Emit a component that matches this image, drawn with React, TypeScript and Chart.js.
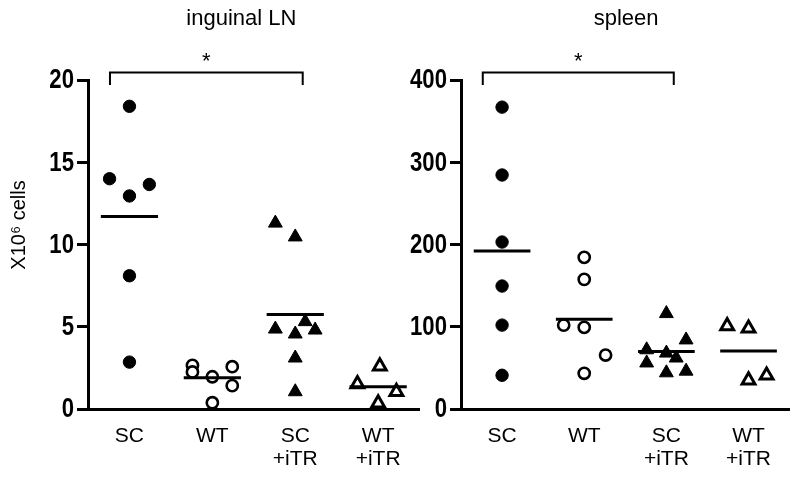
import React, { useEffect, useRef } from "react";
import { Chart, registerables } from "chart.js";

Chart.register(...registerables);

// ---- data ----
const categories: string[][] = [["SC"], ["WT"], ["SC", "+iTR"], ["WT", "+iTR"]];

// inguinal LN (X10^6 cells)
const lnSC = [18.4, 14.0, 12.95, 13.65, 8.1, 2.85];
const lnSCJitter = [0, -0.24, 0, 0.24, 0, 0];
const lnWT = [2.65, 2.25, 1.96, 0.38, 2.57, 1.42];
const lnWTJitter = [-0.24, -0.24, 0, 0, 0.24, 0.24];
const lnSCiTR = [11.3, 10.46, 4.86, 4.56, 5.31, 4.8, 3.1, 1.05];
const lnSCiTRJitter = [-0.24, 0, -0.24, 0, 0.12, 0.24, 0, 0];
const lnWTiTR = [1.52, 2.6, 0.35, 1.05];
const lnWTiTRJitter = [-0.25, 0.02, 0, 0.22];
const lnMeans = [11.7, 1.9, 5.75, 1.36];
const lnTicks = { max: 20, step: 5 };
const lnBracket = { x: [0.765, 3.09], y: [19.7, 20.45], star: 21.1 };

// spleen (X10^6 cells)
const spSC = [367, 284.5, 203, 149.5, 102, 41];
const spSCJitter = [0, 0, 0, 0, 0, 0];
const spWT = [184.4, 157.6, 102, 99.3, 65.6, 43.4];
const spWTJitter = [0, 0, -0.25, 0, 0.26, 0];
const spSCiTR = [116, 84, 72, 68, 62, 56, 44, 46];
const spSCiTRJitter = [0, 0.24, -0.24, 0, 0.12, -0.24, 0, 0.24];
const spWTiTR = [101, 98, 35, 41];
const spWTiTRJitter = [-0.26, 0, 0, 0.22];
const spMeans = [192, 109, 70, 70.5];
const spTicks = { max: 400, step: 100 };
const spBracket = { x: [0.765, 3.09], y: [394, 409], star: 422 };

const SANS = '"Liberation Sans", Arial, Helvetica, sans-serif';

type Panel = {
  title: string;
  titleX: number;
  groups: { values: number[]; jitter: number[] }[];
  means: number[];
  ticks: { max: number; step: number };
  bracket: { x: number[]; y: number[]; star: number };
  yTitle?: string;
  yWidth: number;
  padRight: number;
};

const markerStyles = [
  { pointStyle: "circle", pointRadius: 6.2, backgroundColor: "#000", borderWidth: 1 },
  { pointStyle: "circle", pointRadius: 5.6, backgroundColor: "#fff", borderWidth: 2.6 },
  { pointStyle: "triangle", pointRadius: 8, backgroundColor: "#000", borderWidth: 1 },
  { pointStyle: "triangle", pointRadius: 7.4, backgroundColor: "#fff", borderWidth: 3 },
];

const TICK_LEN = 11;
const TICK_PAD = 3;

function makeConfig(p: Panel): any {
  const datasets: any[] = [];
  p.groups.forEach((g, gi) => {
    const st = markerStyles[gi];
    datasets.push({
      type: "scatter",
      data: g.values.map((v, i) => ({ x: gi + 1 + g.jitter[i], y: v })),
      pointStyle: st.pointStyle,
      pointRadius: st.pointRadius,
      pointHoverRadius: st.pointRadius,
      backgroundColor: st.backgroundColor,
      borderColor: "#000",
      borderWidth: st.borderWidth,
      order: 2,
    });
  });
  p.means.forEach((m, gi) => {
    datasets.push({
      type: "line",
      data: [
        { x: gi + 1 - 0.345, y: m },
        { x: gi + 1 + 0.345, y: m },
      ],
      borderColor: "#000",
      borderWidth: 3,
      pointRadius: 0,
      fill: false,
      order: 1,
    });
  });
  const b = p.bracket;
  datasets.push({
    type: "line",
    data: [
      { x: b.x[0], y: b.y[0] },
      { x: b.x[0], y: b.y[1] },
      { x: b.x[1], y: b.y[1] },
      { x: b.x[1], y: b.y[0] },
    ],
    borderColor: "#000",
    borderWidth: 2,
    pointRadius: 0,
    fill: false,
    clip: false,
    order: 1,
  });

  const annot = {
    id: "annot",
    afterDraw(chart: any) {
      const { ctx, chartArea } = chart;
      const x = chart.scales.x;
      const y = chart.scales.y;
      ctx.save();
      ctx.fillStyle = "#000";
      ctx.textAlign = "center";
      ctx.textBaseline = "middle";
      ctx.font = `22px ${SANS}`;
      ctx.fillText(p.title, x.getPixelForValue(p.titleX), 19);
      ctx.font = `22px ${SANS}`;
      ctx.fillText("*", x.getPixelForValue((b.x[0] + b.x[1]) / 2), y.getPixelForValue(b.star));
      // condensed bold y tick labels, taken from the scale's own ticks
      ctx.font = `bold 27px ${SANS}`;
      ctx.textAlign = "right";
      const xr = chartArea.left - TICK_LEN - TICK_PAD;
      y.ticks.forEach((t: any) => {
        ctx.save();
        ctx.translate(xr, y.getPixelForValue(t.value));
        ctx.scale(0.82, 1);
        ctx.fillText(String(t.label ?? t.value), 0, 1);
        ctx.restore();
      });
      if (p.yTitle) {
        ctx.textAlign = "center";
        ctx.translate(19, 225);
        ctx.rotate(-Math.PI / 2);
        ctx.font = `20px ${SANS}`;
        ctx.fillText(p.yTitle, 0, 0);
      }
      ctx.restore();
    },
  };

  return {
    type: "scatter",
    data: { datasets },
    plugins: [annot],
    options: {
      animation: false,
      responsive: false,
      maintainAspectRatio: false,
      layout: { padding: { top: 80, right: p.padRight, bottom: 0, left: 0 } },
      plugins: { legend: { display: false }, tooltip: { enabled: false }, title: { display: false } },
      scales: {
        x: {
          type: "linear",
          min: 0.5,
          max: 4.5,
          afterFit: (s: any) => {
            s.height = 72;
          },
          afterBuildTicks: (s: any) => {
            s.ticks = [1, 2, 3, 4].map((v) => ({ value: v }));
          },
          grid: { display: false, drawTicks: false },
          border: { display: true, color: "#000", width: 3 },
          ticks: {
            autoSkip: false,
            maxRotation: 0,
            padding: 15,
            color: "#000",
            font: { family: SANS, size: 21, lineHeight: 1.12 },
            callback: (v: number) => categories[Math.round(v) - 1] ?? "",
          },
        },
        y: {
          type: "linear",
          min: 0,
          max: p.ticks.max,
          afterFit: (s: any) => {
            s.width = p.yWidth;
          },
          grid: {
            display: true,
            drawOnChartArea: false,
            drawTicks: true,
            tickLength: TICK_LEN,
            lineWidth: 3,
            color: "#000",
          },
          border: { display: true, color: "#000", width: 3 },
          ticks: {
            display: false,
            stepSize: p.ticks.step,
            padding: TICK_PAD,
            color: "#000",
            font: { family: SANS, size: 27, weight: "bold" },
          },
        },
      },
    },
  };
}

const leftPanel: Panel = {
  title: "inguinal LN",
  titleX: 2.35,
  groups: [
    { values: lnSC, jitter: lnSCJitter },
    { values: lnWT, jitter: lnWTJitter },
    { values: lnSCiTR, jitter: lnSCiTRJitter },
    { values: lnWTiTR, jitter: lnWTiTRJitter },
  ],
  means: lnMeans,
  ticks: lnTicks,
  bracket: lnBracket,
  yTitle: "X10\u2076 cells",
  yWidth: 88,
  padRight: 10,
};

const rightPanel: Panel = {
  title: "spleen",
  titleX: 2.51,
  groups: [
    { values: spSC, jitter: spSCJitter },
    { values: spWT, jitter: spWTJitter },
    { values: spSCiTR, jitter: spSCiTRJitter },
    { values: spWTiTR, jitter: spWTiTRJitter },
  ],
  means: spMeans,
  ticks: spTicks,
  bracket: spBracket,
  yWidth: 61,
  padRight: 9,
};

function PanelChart({ panel, left, width }: { panel: Panel; left: number; width: number }) {
  const ref = useRef<HTMLCanvasElement>(null);
  useEffect(() => {
    if (!ref.current) return;
    const chart = new Chart(ref.current, makeConfig(panel));
    return () => chart.destroy();
  }, [panel]);
  return (
    <canvas
      ref={ref}
      width={width}
      height={481}
      style={{ position: "absolute", left, top: 0, width, height: 481 }}
    />
  );
}

export default function App() {
  return (
    <div style={{ position: "fixed", left: 0, top: 0, width: 800, height: 481, background: "#fff" }}>
      <PanelChart panel={leftPanel} left={0} width={430} />
      <PanelChart panel={rightPanel} left={400} width={400} />
    </div>
  );
}
